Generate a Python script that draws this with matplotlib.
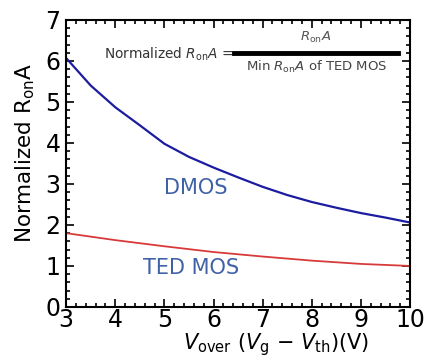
import numpy as np
import matplotlib.pyplot as plt
from matplotlib.ticker import MultipleLocator

# values
v_over = [3, 3.5, 4, 4.5, 5, 5.5, 6, 6.5, 7, 7.5, 8, 8.5, 9, 9.5, 10]
dmos = [6.07, 5.40, 4.87, 4.43, 3.98, 3.66, 3.40, 3.16, 2.93, 2.73, 2.56, 2.42, 2.29, 2.18, 2.06]
v_ted = [3, 4, 5, 6, 7, 8, 9, 10]
ted_mos = [1.80, 1.63, 1.48, 1.34, 1.23, 1.13, 1.05, 1.0]

fig = plt.figure(figsize=(4.24, 3.62), dpi=100)
ax = fig.add_axes([0.156, 0.152, 0.811, 0.793])

ax.plot(v_over, dmos, color='#1c1ca0', lw=1.6)
ax.plot(v_ted, ted_mos, color='#d83a3a', lw=1.3)

ax.set_xlim(3, 10)
ax.set_ylim(0, 7)
ax.xaxis.set_major_locator(MultipleLocator(1))
ax.yaxis.set_major_locator(MultipleLocator(1))
ax.xaxis.set_minor_locator(MultipleLocator(0.2))
ax.yaxis.set_minor_locator(MultipleLocator(0.2))
ax.tick_params(which='both', direction='in', top=True, right=True, width=1.2)
ax.tick_params(which='major', length=6, labelsize=17)
ax.tick_params(axis='x', which='major', pad=1)
ax.tick_params(axis='y', which='major', pad=4)
ax.tick_params(which='minor', length=3)
for s in ax.spines.values():
    s.set_linewidth(1.5)

ax.set_ylabel(r'Normalized R$_{\mathrm{on}}$A', fontsize=15.5)
ax.yaxis.set_label_coords(-0.085, 0.535)
ax.set_xlabel(r'$V_{\mathrm{over}}$ ($V_{\mathrm{g}}$ $-$ $V_{\mathrm{th}}$)(V)', fontsize=15)
ax.xaxis.set_label_coords(0.61, -0.085)

ax.text(0.378, 0.415, 'DMOS', transform=ax.transAxes, fontsize=15, color='#3f62a6',
        ha='center', va='center')
ax.text(0.363, 0.136, 'TED MOS', transform=ax.transAxes, fontsize=15, color='#3f62a6',
        ha='center', va='center')

# normalization formula
ax.text(0.485, 0.88, r'Normalized $R_{\mathrm{on}}A$ =', transform=ax.transAxes,
        fontsize=9.8, color='#333333', ha='right', va='center')
ax.plot([0.487, 0.965], [0.885, 0.885], transform=ax.transAxes, color='black', lw=3.5)
ax.text(0.725, 0.94, r'$R_{\mathrm{on}}A$', transform=ax.transAxes,
        fontsize=9.5, color='#555555', ha='center', va='center')
ax.text(0.73, 0.835, r'Min $R_{\mathrm{on}}A$ of TED MOS', transform=ax.transAxes,
        fontsize=9.5, color='#444444', ha='center', va='center')

fig.savefig('out.png', dpi=100)
